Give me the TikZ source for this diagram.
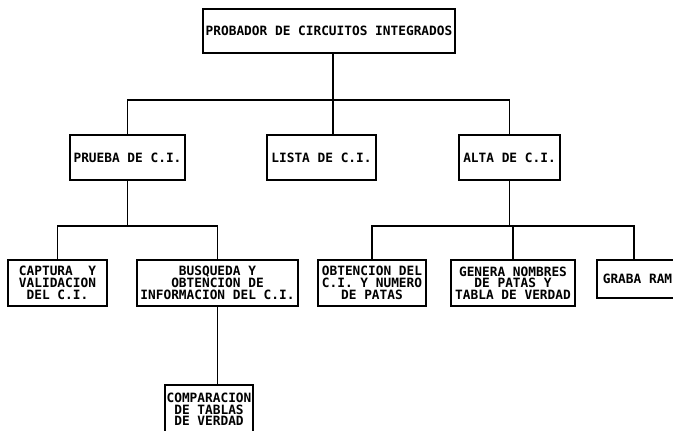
\documentclass[tikz,border=0pt]{standalone}
\usepackage{fontspec}
\setmonofont{DejaVu Sans Mono}
\begin{document}
\begin{tikzpicture}[x=1pt,y=-1pt,
        caja/.style={draw, line width=1.3pt, inner sep=0pt, align=center,
            font=\ttfamily\bfseries\fontsize{12.8}{11.7}\selectfont},
        linea/.style={line width=1.3pt}]
        \useasboundingbox (0,0) rectangle (673,431);
        \clip (0,0) rectangle (673,431);
        % nivel 0
        \node[caja, minimum width=252pt, minimum height=44pt] (probador) at (329,31) {PROBADOR DE CIRCUITOS INTEGRADOS};
        % nivel 1
        \node[caja, minimum width=115pt, minimum height=45pt] (prueba) at (127.5,157.5) {PRUEBA DE C.I.};
        \node[caja, minimum width=109pt, minimum height=45pt] (lista) at (321.5,157.5) {LISTA DE C.I.};
        \node[caja, minimum width=101pt, minimum height=45pt] (alta) at (509.5,157.5) {ALTA DE C.I.};
        % nivel 2
        \node[caja, minimum width=99pt, minimum height=46pt] (captura) at (57.5,283) {CAPTURA\ \ Y\\VALIDACION\\DEL C.I.};
        \node[caja, minimum width=161pt, minimum height=46pt] (busqueda) at (217.5,283) {BUSQUEDA Y\\OBTENCION DE\\INFORMACION DEL C.I.};
        \node[caja, minimum width=108pt, minimum height=46pt] (obtencion) at (372,283) {OBTENCION DEL\\C.I. Y NUMERO\\DE PATAS};
        \node[caja, minimum width=124pt, minimum height=46pt] (genera) at (513,283) {GENERA NOMBRES\\DE PATAS Y\\TABLA DE VERDAD};
        \node[caja, minimum width=81pt, minimum height=38pt] (graba) at (637.5,279) {GRABA RAM};
        % nivel 3
        \node[caja, minimum width=88pt, minimum height=49pt] (comparacion) at (209,409.5) {COMPARACION\\DE TABLAS\\DE VERDAD};
        % lineas
        \coordinate (b1) at (333,100);
        \coordinate (b2) at (125,226);
        \coordinate (b3) at (513,226);
        \coordinate (g) at (634,226);
        \draw[linea] (probador.south -| b1) -- (b1);
        \draw[linea] (prueba.north) |- (b1) -| (alta.north);
        \draw[linea] (b1) -- (b1 |- lista.north);
        \draw[linea] (prueba.south) -- (prueba.south |- b2);
        \draw[linea] (captura.north) |- (b2) -| (busqueda.north);
        \draw[linea] (busqueda.south) -- (busqueda.south |- comparacion.north);
        \draw[linea] (alta.south) -- (alta.south |- b3);
        \draw[linea] (obtencion.north) |- (b3) -- (g) -- (g |- graba.north);
        \draw[linea] (b3) -- (b3 |- genera.north);
\end{tikzpicture}
\end{document}
